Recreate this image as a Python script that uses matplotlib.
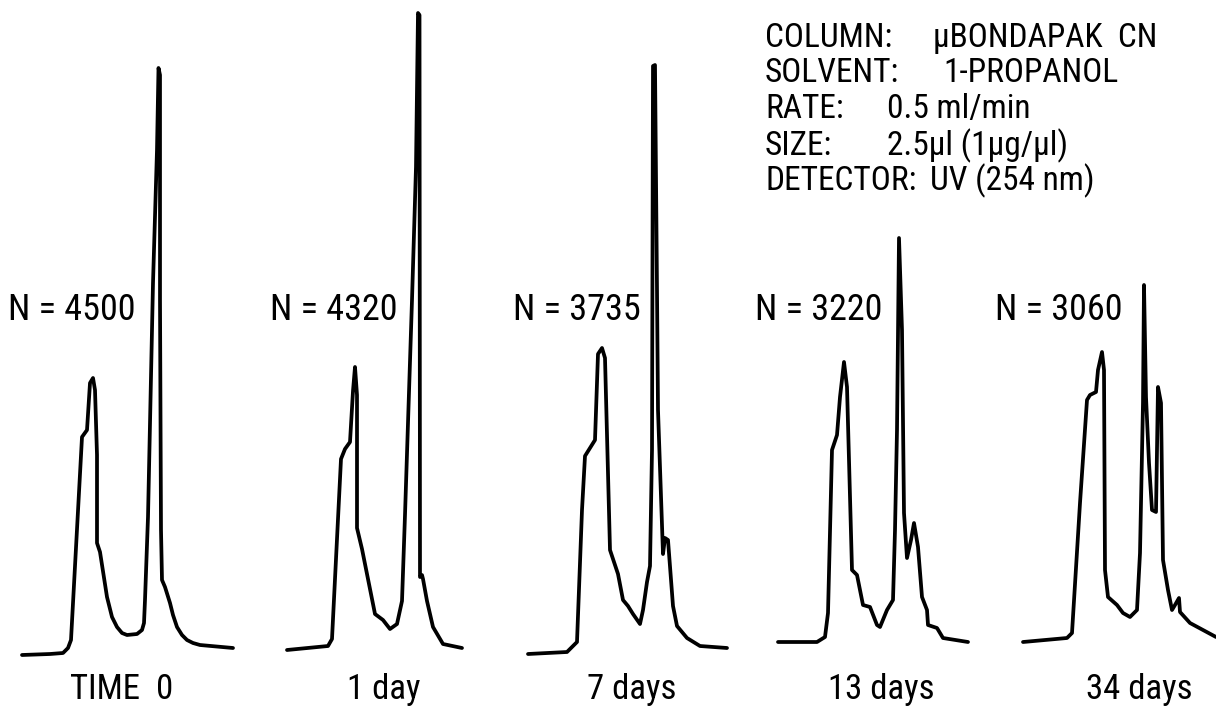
import numpy as np
from matplotlib import pyplot as plt
from matplotlib import font_manager as fm


def pick_font(names):
    for n in names:
        try:
            fm.findfont(fm.FontProperties(family=n), fallback_to_default=False)
            return n
        except ValueError:
            pass
    return "DejaVu Sans"


narrow = pick_font(["Roboto Condensed", "Liberation Sans Narrow", "DejaVu Sans Condensed",
                    "Noto Sans Condensed", "Open Sans Condensed"])
plt.rcParams['font.family'] = [narrow, 'DejaVu Sans']
plt.rcParams['font.stretch'] = 'condensed'

# chromatograms: relative time (t) and detector signal (s)
t_time0 = [0, 28, 41, 46, 49, 60, 65, 68, 71, 73, 75, 75, 78, 85, 90, 95, 100, 105, 115, 120, 122, 123, 126, 131, 135, 136.5, 138, 138, 139, 140, 143, 148, 151, 155, 160, 165, 171, 178, 211]
s_time0 = [-5, -4, -3, 2, 10, 213, 220, 267, 272, 260, 195, 107, 98, 53, 33, 23, 17, 15, 16, 20, 27, 50, 133, 367, 500, 582, 575, 350, 120, 70, 63, 47, 35, 23, 15, 10, 7, 5, 2]

t_day1 = [0, 41, 45, 54, 58, 63, 66, 68, 70, 70, 75, 81, 88, 96, 103, 110, 115, 118, 125, 129, 131, 132.5, 133, 135, 136, 140, 146, 156, 175]
s_day1 = [0, 4, 11, 191, 201, 208, 259, 283, 255, 122, 101, 71, 36, 30, 21, 26, 49, 135, 350, 483, 637, 635, 73, 75, 71, 49, 23, 6, 2]

t_day7 = [0, 39, 49, 54, 57, 67, 70, 74, 77, 82, 90, 95, 100, 105, 112, 115, 119, 122, 124, 125, 127, 129, 130, 135, 137, 140, 145, 149, 159, 172, 199]
s_day7 = [-4, -2, 8, 140, 194, 210, 296, 302, 292, 100, 76, 50, 44, 36, 26, 40, 68, 84, 200, 584, 585, 360, 240, 96, 112, 110, 44, 24, 12, 4, 2]

t_day13 = [0, 39, 47, 50, 54, 59, 62, 66, 69, 74, 79, 85, 92, 99, 102, 109, 115, 117, 119, 121, 124, 126, 129, 133, 136, 140, 144, 149, 150, 159, 165, 190]
s_day13 = [8, 8, 13, 37, 200, 215, 253, 288, 263, 80, 75, 45, 43, 25, 23, 40, 50, 120, 220, 412, 320, 137, 92, 110, 127, 103, 53, 40, 25, 22, 12, 8]

t_day34 = [0, 44, 49, 57, 64, 67, 73, 75, 79, 81, 82, 85, 94, 100, 107, 114, 117, 120, 121, 123, 126, 129, 133, 135, 138, 140, 145, 149, 152, 156, 157, 167, 193]
s_day34 = [8, 12, 17, 147, 250, 255, 258, 280, 298, 280, 80, 53, 45, 37, 33, 40, 97, 247, 365, 253, 187, 140, 138, 263, 247, 90, 60, 40, 45, 52, 38, 27, 13]

labels = ["TIME  0", "1 day", "7 days", "13 days", "34 days"]
plates = ["N = 4500", "N = 4320", "N = 3735", "N = 3220", "N = 3060"]

keys = ["COLUMN:", "SOLVENT:", "RATE:", "SIZE:", "DETECTOR:"]
values = ["\u00b5BONDAPAK  CN", "1-PROPANOL", "0.5 ml/min", "2.5\u00b5l (1\u00b5g/\u00b5l)", "UV (254 nm)"]

traces = [(t_time0, s_time0), (t_day1, s_day1), (t_day7, s_day7), (t_day13, s_day13), (t_day34, s_day34)]

# layout (px-ish units on a full-figure axes)
starts = [22, 287, 528, 778, 1023]
label_x = [122, 384, 632, 881, 1139]
plate_x = [8, 270, 513, 755, 995]
val_x = [933, 943, 887, 887, 930]
line_y = [47, 82, 118, 155, 190]

fig = plt.figure(figsize=(12.16, 7.06), dpi=100)
ax = fig.add_axes([0, 0, 1, 1])
ax.set_xlim(0, 1216)
ax.set_ylim(-56, 650)
ax.axis("off")

for (t, s), x0 in zip(traces, starts):
    ax.plot(np.array(t) + x0, s, color="black", lw=2.7,
            solid_joinstyle="round", solid_capstyle="round")

for lab, x in zip(labels, label_x):
    ax.text(x, 650 - 699, lab, ha="center", va="baseline", fontsize=25)

for p, x in zip(plates, plate_x):
    ax.text(x, 650 - 310, p, ha="left", va="center", fontsize=26)

for k, v, vx, y in zip(keys, values, val_x, line_y):
    ax.text(765, 650 - y, k, ha="left", va="baseline", fontsize=24)
    ax.text(vx, 650 - y, v, ha="left", va="baseline", fontsize=24)

plt.savefig("out.png", dpi=100)
